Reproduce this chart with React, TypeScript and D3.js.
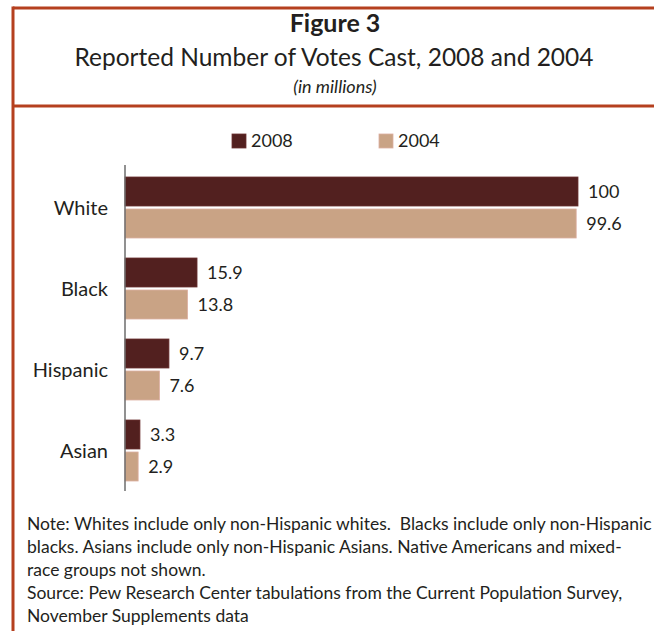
import React from "react";
import * as d3 from "d3";

const categories = ["White", "Black", "Hispanic", "Asian"];
const seriesNames = ["2008", "2004"];
const values2008 = [100, 15.9, 9.7, 3.3];
const values2004 = [99.6, 13.8, 7.6, 2.9];
const valueLabels2008 = ["100", "15.9", "9.7", "3.3"];
const valueLabels2004 = ["99.6", "13.8", "7.6", "2.9"];
const noteLines = [
  "Note: Whites include only non-Hispanic whites.  Blacks include only non-Hispanic",
  "blacks. Asians include only non-Hispanic Asians. Native Americans and mixed-",
  "race groups not shown.",
  "Source: Pew Research Center tabulations from the Current Population Survey,",
  "November Supplements data",
];

const W = 654;
const H = 631;
const FONT = "Lato, 'Open Sans', sans-serif";
const TEXT = "#231f20";
const BORDER = "#b5401f";
const COLORS: Record<string, string> = { "2008": "#52201f", "2004": "#c9a385" };
const STROKES: Record<string, string> = { "2008": "#6a3030", "2004": "#dcaea0" };

export default function App() {
  const x = d3.scaleLinear().domain([0, 100]).range([125, 578]);
  const y0 = d3
    .scaleBand<string>()
    .domain(categories)
    .range([167, 491])
    .paddingInner(20 / 81)
    .paddingOuter(10 / 81);
  const y1 = d3
    .scaleBand<string>()
    .domain(seriesNames)
    .range([0, y0.bandwidth()])
    .paddingInner(0.09375);

  const rows = categories.map((c, i) => ({
    cat: c,
    bars: [
      { s: "2008", v: values2008[i], label: valueLabels2008[i] },
      { s: "2004", v: values2004[i], label: valueLabels2004[i] },
    ],
  }));

  return (
    <div style={{ position: "absolute", left: 0, top: 0 }}>
      <style>{`body{margin:0}`}</style>
      <svg width={W} height={H} style={{ display: "block", background: "#fff" }}>
        {/* frame */}
        <line x1={13} y1={8} x2={W} y2={8} stroke={BORDER} strokeWidth={3} />
        <line x1={13} y1={106} x2={W} y2={106} stroke={BORDER} strokeWidth={3} />
        <line x1={13} y1={6.5} x2={13} y2={H} stroke={BORDER} strokeWidth={3} />

        {/* titles */}
        <text x={335} y={32} textAnchor="middle" fontFamily={FONT} fontWeight="bold" fontSize={25} fill={TEXT}>
          Figure 3
        </text>
        <text x={334} y={66} textAnchor="middle" fontFamily={FONT} fontSize={24.5} fill={TEXT}>
          Reported Number of Votes Cast, 2008 and 2004
        </text>
        <text x={335} y={93} textAnchor="middle" fontFamily={FONT} fontStyle="italic" fontSize={18} fill={TEXT}>
          (in millions)
        </text>

        {/* legend */}
        {seriesNames.map((s, i) => {
          const lx = i === 0 ? 232 : 379;
          return (
            <g key={s}>
              <rect x={lx} y={134} width={14} height={14} fill={COLORS[s]} stroke={STROKES[s]} strokeWidth={0.8} />
              <text x={lx + 19} y={141} dy="0.36em" fontFamily={FONT} fontSize={18} fill={TEXT}>
                {s}
              </text>
            </g>
          );
        })}

        {/* bars */}
        {rows.map((r) => (
          <g key={r.cat} transform={`translate(0,${y0(r.cat)})`}>
            <text
              x={108}
              y={y0.bandwidth() / 2}
              dy="0.35em"
              textAnchor="end"
              fontFamily={FONT}
              fontSize={20}
              fill={TEXT}
            >
              {r.cat}
            </text>
            {r.bars.map((b) => (
              <g key={b.s}>
                <rect
                  x={x(0)}
                  y={y1(b.s)}
                  width={x(b.v) - x(0)}
                  height={y1.bandwidth()}
                  fill={COLORS[b.s]}
                  stroke={STROKES[b.s]}
                  strokeWidth={0.8}
                />
                <text
                  x={x(b.v) + 10}
                  y={(y1(b.s) as number) + y1.bandwidth() / 2}
                  dy="0.35em"
                  fontFamily={FONT}
                  fontSize={18}
                  fill={TEXT}
                >
                  {b.label}
                </text>
              </g>
            ))}
          </g>
        ))}

        {/* axis */}
        <line x1={x(0)} y1={165} x2={x(0)} y2={491} stroke="#6d6d6d" strokeWidth={1.5} />

        {/* notes */}
        {noteLines.map((t, i) => (
          <text key={i} x={27} y={530 + i * 23} fontFamily={FONT} fontSize={17.5} fill={TEXT} style={{ whiteSpace: "pre" }}>
            {t}
          </text>
        ))}
      </svg>
    </div>
  );
}
